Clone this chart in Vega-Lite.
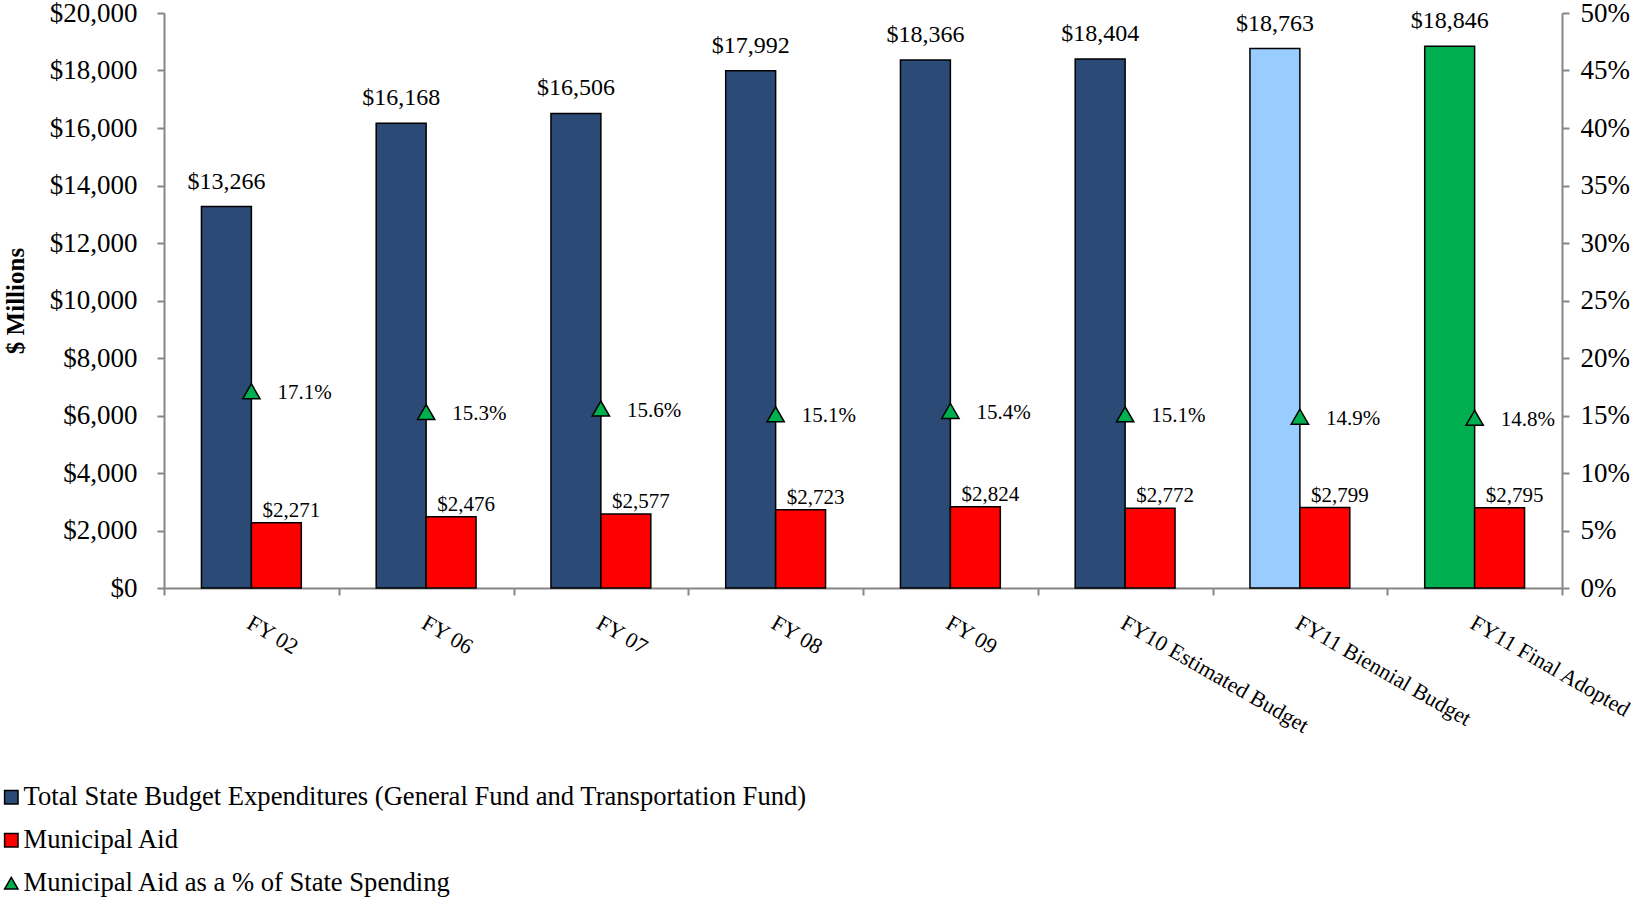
{
  "$schema": "https://vega.github.io/schema/vega-lite/v6.json",
  "width": 1398,
  "height": 575,
  "autosize": {"type": "none"},
  "padding": {"left": 164, "top": 13, "right": 74, "bottom": 313},
  "config": {
    "font": "Liberation Serif",
    "view": {"stroke": null},
    "axis": {
      "domainColor": "#868686",
      "tickColor": "#868686",
      "domainWidth": 2,
      "tickWidth": 2,
      "tickSize": 7,
      "grid": false,
      "labelColor": "black",
      "titleColor": "black",
      "labelFont": "Liberation Serif",
      "titleFont": "Liberation Serif"
    },
    "legend": {
      "labelFont": "Liberation Serif",
      "labelFontSize": 26.6,
      "labelColor": "black",
      "labelLimit": 2000,
      "symbolSize": 180,
      "symbolStrokeColor": "black",
      "symbolStrokeWidth": 1.5,
      "labelOffset": -1,
      "rowPadding": 16
    }
  },
  "datasets": {
    "bars": [
      {"year": "FY 02", "series": "Total State Budget Expenditures (General Fund and Transportation Fund)", "value": 13266},
      {"year": "FY 06", "series": "Total State Budget Expenditures (General Fund and Transportation Fund)", "value": 16168},
      {"year": "FY 07", "series": "Total State Budget Expenditures (General Fund and Transportation Fund)", "value": 16506},
      {"year": "FY 08", "series": "Total State Budget Expenditures (General Fund and Transportation Fund)", "value": 17992},
      {"year": "FY 09", "series": "Total State Budget Expenditures (General Fund and Transportation Fund)", "value": 18366},
      {"year": "FY10 Estimated Budget", "series": "Total State Budget Expenditures (General Fund and Transportation Fund)", "value": 18404},
      {"year": "FY11 Biennial Budget", "series": "Total State Budget Expenditures (General Fund and Transportation Fund)", "value": 18763},
      {"year": "FY11 Final Adopted", "series": "Total State Budget Expenditures (General Fund and Transportation Fund)", "value": 18846},
      {"year": "FY 02", "series": "Municipal Aid", "value": 2271},
      {"year": "FY 06", "series": "Municipal Aid", "value": 2476},
      {"year": "FY 07", "series": "Municipal Aid", "value": 2577},
      {"year": "FY 08", "series": "Municipal Aid", "value": 2723},
      {"year": "FY 09", "series": "Municipal Aid", "value": 2824},
      {"year": "FY10 Estimated Budget", "series": "Municipal Aid", "value": 2772},
      {"year": "FY11 Biennial Budget", "series": "Municipal Aid", "value": 2799},
      {"year": "FY11 Final Adopted", "series": "Municipal Aid", "value": 2795}
    ],
    "pct": [
      {"year": "FY 02", "series": "Municipal Aid as a % of State Spending", "pct": 0.171},
      {"year": "FY 06", "series": "Municipal Aid as a % of State Spending", "pct": 0.153},
      {"year": "FY 07", "series": "Municipal Aid as a % of State Spending", "pct": 0.156},
      {"year": "FY 08", "series": "Municipal Aid as a % of State Spending", "pct": 0.151},
      {"year": "FY 09", "series": "Municipal Aid as a % of State Spending", "pct": 0.154},
      {"year": "FY10 Estimated Budget", "series": "Municipal Aid as a % of State Spending", "pct": 0.151},
      {"year": "FY11 Biennial Budget", "series": "Municipal Aid as a % of State Spending", "pct": 0.149},
      {"year": "FY11 Final Adopted", "series": "Municipal Aid as a % of State Spending", "pct": 0.148}
    ]
  },
  "encoding": {
    "x": {
      "field": "year",
      "type": "nominal",
      "sort": null,
      "scale": {"paddingInner": 0, "paddingOuter": 0},
      "axis": {
        "title": null,
        "labelAngle": 30,
        "labelAlign": "left",
        "labelBaseline": "top",
        "labelFontSize": 22,
        "labelPadding": 17,
        "labelOffset": 2,
        "tickBand": "extent",
        "labelLimit": 400
      }
    }
  },
  "layer": [
    {
      "data": {"name": "bars"},
      "encoding": {
        "xOffset": {
          "field": "series",
          "type": "nominal",
          "sort": null,
          "scale": {
            "domain": ["Total State Budget Expenditures (General Fund and Transportation Fund)", "Municipal Aid"],
            "paddingInner": 0,
            "paddingOuter": 0.75
          }
        },
        "y": {
          "field": "value",
          "type": "quantitative",
          "stack": null,
          "scale": {"domain": [0, 20000], "nice": false},
          "axis": {
            "title": "$ Millions",
            "titleFontSize": 25,
            "titleFontWeight": "bold",
            "titlePadding": 21,
            "labelFontSize": 27,
            "labelPadding": 20,
            "values": [0, 2000, 4000, 6000, 8000, 10000, 12000, 14000, 16000, 18000, 20000],
            "format": "$,.0f"
          }
        }
      },
      "layer": [
        {
          "mark": {"type": "bar", "stroke": "black", "strokeWidth": 1.5},
          "encoding": {
            "color": {
              "condition": [
                {"test": "datum.year === 'FY11 Biennial Budget' && datum.series !== 'Municipal Aid'", "value": "#99CCFF"},
                {"test": "datum.year === 'FY11 Final Adopted' && datum.series !== 'Municipal Aid'", "value": "#00B050"}
              ],
              "field": "series",
              "type": "nominal",
              "scale": {
                "domain": ["Total State Budget Expenditures (General Fund and Transportation Fund)", "Municipal Aid", "Municipal Aid as a % of State Spending"],
                "range": ["#2C4A76", "#FF0000", "#00B050"]
              },
              "legend": {"title": null, "orient": "none", "legendX": -166, "legendY": 771, "direction": "vertical"}
            }
          }
        },
        {
          "transform": [{"filter": "datum.series !== 'Municipal Aid'"}],
          "mark": {"type": "text", "fontSize": 24, "baseline": "bottom", "dy": -13, "color": "black"},
          "encoding": {"text": {"field": "value", "type": "quantitative", "format": "$,.0f"}}
        },
        {
          "transform": [{"filter": "datum.series === 'Municipal Aid'"}],
          "mark": {"type": "text", "fontSize": 21, "baseline": "bottom", "dy": -2, "dx": 15, "color": "black"},
          "encoding": {"text": {"field": "value", "type": "quantitative", "format": "$,.0f"}}
        }
      ]
    },
    {
      "data": {"name": "pct"},
      "encoding": {
        "y": {
          "field": "pct",
          "type": "quantitative",
          "scale": {"domain": [0, 0.5], "nice": false},
          "axis": {
            "orient": "right",
            "title": null,
            "labelFontSize": 27,
            "labelPadding": 11,
            "values": [0, 0.05, 0.1, 0.15, 0.2, 0.25, 0.3, 0.35, 0.4, 0.45, 0.5],
            "format": ".0%"
          }
        }
      },
      "layer": [
        {
          "mark": {"type": "point", "filled": true, "size": 300, "stroke": "black", "strokeWidth": 1.5, "opacity": 1},
          "encoding": {
            "color": {
              "field": "series",
              "type": "nominal",
              "scale": {
                "domain": ["Total State Budget Expenditures (General Fund and Transportation Fund)", "Municipal Aid", "Municipal Aid as a % of State Spending"],
                "range": ["#2C4A76", "#FF0000", "#00B050"]
              },
              "legend": {"title": null, "orient": "none", "legendX": -166, "legendY": 771, "direction": "vertical"}
            },
            "shape": {
              "field": "series",
              "type": "nominal",
              "scale": {
                "domain": ["Total State Budget Expenditures (General Fund and Transportation Fund)", "Municipal Aid", "Municipal Aid as a % of State Spending"],
                "range": ["square", "square", "triangle-up"]
              },
              "legend": {"title": null, "orient": "none", "legendX": -166, "legendY": 771, "direction": "vertical"}
            }
          }
        },
        {
          "mark": {"type": "text", "fontSize": 21, "align": "left", "baseline": "middle", "dx": 26, "dy": 2, "color": "black"},
          "encoding": {"text": {"field": "pct", "type": "quantitative", "format": ".1%"}}
        }
      ]
    }
  ],
  "resolve": {"scale": {"y": "independent"}}
}
